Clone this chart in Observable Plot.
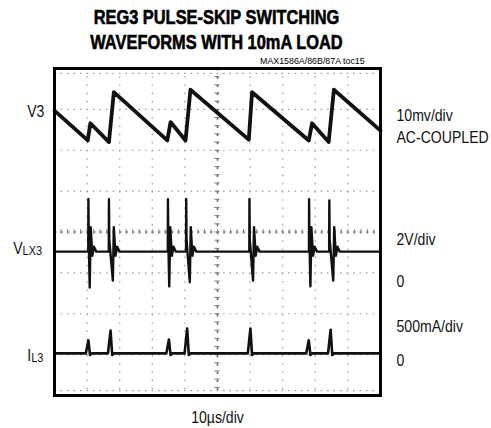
<!DOCTYPE html>
<html><head><meta charset="utf-8">
<script src="https://cdn.jsdelivr.net/npm/d3@7"></script>
<script src="https://cdn.jsdelivr.net/npm/@observablehq/plot@0.6"></script>
<style>
body{margin:0;background:#fff;}
#wrap{width:491px;}
#head{position:relative;height:66px;}
#t1{position:absolute;left:0;top:4.4px;width:433px;text-align:center;font-family:"Liberation Sans",Arial,sans-serif;font-weight:bold;font-size:20.5px;line-height:25px;color:#000;transform:scaleX(0.8);transform-origin:216.5px 0;-webkit-text-stroke:0.6px #000;}
#toc{position:absolute;right:126px;top:54.8px;font-family:"Liberation Sans",Arial,sans-serif;font-size:9.6px;line-height:12px;color:#000;white-space:nowrap;transform:scaleX(0.92);transform-origin:100% 0;}
</style></head><body>
<div id="wrap">
<div id="head">
<div id="t1">REG3 PULSE-SKIP SWITCHING<br>WAVEFORMS WITH 10mA LOAD</div>
<div id="toc">MAX1586A/86B/87A toc15</div>
</div>
<div id="chart"></div>
</div>
<script>
// time in µs (10 µs/div), levels in screen divisions (8 div tall)
const v3Time  = [0, 10.2, 11.0, 16.7, 18.2, 34.6, 35.6, 40.2, 41.7, 59.6, 60.6, 78.0, 79.0, 84.1, 85.7, 100];
const v3Level = [6.97, 6.24, 6.66, 6.20, 7.42, 6.24, 6.69, 6.24, 7.48, 6.26, 7.42, 6.24, 6.66, 6.20, 7.48, 6.48];

const lxBase = 3.52;
const lxTime   = [10.4, 16.7, 34.8, 40.4, 59.8, 78.1, 84.3];
const lxTop    = [4.81, 4.80, 4.80, 4.81, 4.81, 4.80, 4.77];
const lxBottom = [2.64, 2.81, 2.67, 2.77, 2.81, 2.67, 2.81];
const lxLag    = [0.4, 1.2, 0.4, 1.1, 1.1, 0.4, 1.2];

const ilBase = 1.03;
const ilTime = [10.4, 17.2, 35.1, 40.7, 60.1, 78.0, 84.7];
const ilPeak = [1.35, 1.59, 1.37, 1.64, 1.64, 1.35, 1.61];

const gridX = [10, 20, 30, 40, 60, 70, 80, 90];
const gridY = [1, 2, 3, 5, 6, 7];

const labelsLeft = [
  {t: -3.1, y: 6.94, s: "V3"},
  {t: -3.8, y: 3.59, s: "VLX3"},
  {t: -3.4, y: 0.98, s: "IL3"}
];
const labelsRight = [
  {y: 6.84, s: "10mv/div"},
  {y: 6.30, s: "AC-COUPLED"},
  {y: 3.81, s: "2V/div"},
  {y: 2.79, s: "0"},
  {y: 1.69, s: "500mA/div"},
  {y: 0.84, s: "0"}
];
const xLabel = "10\u00b5s/div";

// build traces
const v3 = v3Time.map((t, i) => ({t, y: v3Level[i]}));
const lx = [{t: 0, y: lxBase}];
lxTime.forEach((t, i) => {
  const b = lxBase, d = lxLag[i];
  lx.push({t: t - 0.05, y: b}, {t, y: lxTop[i]}, {t: t + 0.1, y: b + 0.3}, {t: t + d, y: lxBottom[i]},
          {t: t + d + 0.3, y: b + 0.6}, {t: t + d + 0.8, y: b - 0.1}, {t: t + d + 1.3, y: b + 0.12}, {t: t + d + 2.0, y: b});
});
lx.push({t: 100, y: lxBase});
const il = [{t: 0, y: ilBase}];
ilTime.forEach((t, i) => {
  il.push({t: t - 0.8, y: ilBase}, {t, y: ilPeak[i]}, {t: t + 0.5, y: ilBase - 0.04}, {t: t + 1.0, y: ilBase});
});
il.push({t: 100, y: ilBase});

const minorY = d3.range(0, 8.001, 0.2);
const minorX = d3.range(0, 100.001, 2);

const font = "'Liberation Sans',Arial,sans-serif";
const grey = "#a0a0a0";

const plot = Plot.plot({
  width: 491, height: 362,
  marginTop: 2, marginLeft: 54, marginRight: 111, marginBottom: 33,
  x: {domain: [0, 100], axis: null},
  y: {domain: [0, 8], axis: null},
  style: {background: "#fff", overflow: "visible"},
  marks: [
    Plot.ruleX(gridX, {stroke: grey, strokeWidth: 1.2, strokeDasharray: "1.6,6.6"}),
    Plot.ruleY(gridY, {stroke: grey, strokeWidth: 1.2, strokeDasharray: "1.6,4.9"}),
    Plot.ruleX([50], {stroke: "#666", strokeWidth: 1.6, strokeDasharray: "2.5,5.7"}),
    Plot.ruleY([4], {stroke: "#777", strokeWidth: 1.6, strokeDasharray: "2.5,4"}),
    Plot.ruleY(minorY, {y: d => d, x1: 49.2, x2: 50.8, stroke: "#777", strokeWidth: 1}),
    Plot.ruleX(minorX, {x: d => d, y1: 3.94, y2: 4.06, stroke: "#888", strokeWidth: 1}),
    Plot.ruleY([0.12, 7.88], {stroke: grey, strokeWidth: 1.2, strokeDasharray: "1.6,4.9"}),
    Plot.line(il, {x: "t", y: "y", stroke: "#111", strokeWidth: 2.6}),
    Plot.line(lx, {x: "t", y: "y", stroke: "#111", strokeWidth: 2.4}),
    Plot.line(v3, {x: "t", y: "y", stroke: "#111", strokeWidth: 3.8}),
    Plot.frame({stroke: "#000", strokeWidth: 3}),
    Plot.text(labelsLeft, {x: "t", y: "y", text: "s", textAnchor: "end", fontSize: 16, fontFamily: font, fill: "#111"}),
    Plot.text(labelsRight, {x: 104.9, y: "y", text: "s", textAnchor: "start", fontSize: 16, fontFamily: font, fill: "#111"}),
    Plot.text([xLabel], {x: 50, y: -0.55, text: d => d, fontSize: 16, fontFamily: font, fill: "#111"})
  ]
});
document.getElementById("chart").appendChild(plot);

// condensed look + subscripts for VLX3 and IL3
d3.select(plot).selectAll("text").each(function() {
  const s = this.textContent;
  const el = d3.select(this);
  if (s === "VLX3" || s === "IL3") {
    el.text(null);
    el.append("tspan").text(s[0]);
    el.append("tspan").attr("font-size", 12.5).attr("dy", "0.12em").text(s.slice(1));
  }
  const tr = this.getAttribute("transform") || "";
  this.setAttribute("transform", `${tr} scale(0.88,1)`);
});
</script>
</body></html>
